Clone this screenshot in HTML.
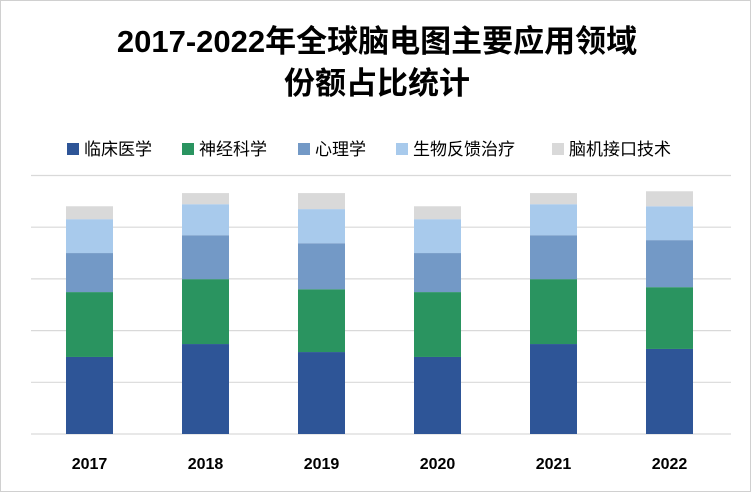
<!DOCTYPE html>
<html><head><meta charset="utf-8"><style>
body{margin:0;background:#fff}
#wrap{position:relative;width:749px;height:490px;border:1px solid #d0d0d0;background:#fff;font-family:"Liberation Sans","Noto Sans CJK SC",sans-serif}
</style></head><body>
<div id="wrap">
<svg id="chart" width="749" height="490">
<text x="376" y="51" text-anchor="middle" font-size="31" font-weight="bold" fill="#000" font-family="Liberation Sans, Noto Sans CJK SC, sans-serif">2017-2022年全球脑电图主要应用领域</text>
<text x="376" y="93" text-anchor="middle" font-size="31" font-weight="bold" fill="#000" font-family="Liberation Sans, Noto Sans CJK SC, sans-serif">份额占比统计</text>
<g id="legend"></g>
<g id="grid"></g>
<g id="bars"></g>
<g id="xlabels"></g>
</svg>
</div>
<script>
const categories=["2017","2018","2019","2020","2021","2022"];
const seriesNames=["临床医学","神经科学","心理学","生物反馈治疗","脑机接口技术"];
const clinical=[29.8,34.8,31.7,29.8,34.8,32.9];
const neuro=[25.1,25.1,24.3,25.1,25.1,23.9];
const psych=[15.1,17.0,17.8,15.1,17.0,18.2];
const biofeedback=[13.1,12.0,13.2,13.1,12.0,13.1];
const bci=[5.0,4.3,6.2,5.0,4.3,5.8];
const gridTicks=[0,20,40,60,80,100];

const series=[clinical,neuro,psych,biofeedback,bci];
const colors=["#2e5597","#2a9460","#7399c6","#a8caec","#d9d9d9"];
const NS="http://www.w3.org/2000/svg";
const x0=30.5,x1=726.5,yb=433,yt=174.5,maxV=100;
const band=(x1-x0)/categories.length,bw=47;
const yScale=v=>yb-(v/maxV)*(yb-yt);
const xCenter=i=>x0+band*(i+0.5);
function mk(tag,attrs){const e=document.createElementNS(NS,tag);for(const k in attrs)e.setAttribute(k,attrs[k]);return e;}
const grid=document.getElementById('grid');
gridTicks.forEach(t=>{
  const l=mk('line',{x1:30,x2:730,y1:yScale(t),y2:yScale(t),stroke:'#d9d9d9','stroke-width':1.2});
  
  
  grid.appendChild(l);
});
const bars=document.getElementById('bars');
categories.forEach((c,i)=>{
  let acc=0;
  series.forEach((s,j)=>{
    const y0=yScale(acc),y1=yScale(acc+s[i]);acc+=s[i];
    const r=mk('rect',{x:xCenter(i)-bw/2,y:y1,width:bw,height:y0-y1,fill:colors[j]});
    
    
    bars.appendChild(r);
  });
});
const xl=document.getElementById('xlabels');
categories.forEach((c,i)=>{
  const t=mk('text',{x:xCenter(i),y:468,'text-anchor':'middle','font-size':16,'font-weight':'bold',fill:'#000'});
  t.textContent=c;
  
  
  xl.appendChild(t);
});
const lg=document.getElementById('legend');
const lx=[66,181,297,395,551];
seriesNames.forEach((n,j)=>{
  const r=mk('rect',{x:lx[j],y:142,width:12,height:12,fill:colors[j]});
  
  
  lg.appendChild(r);
  const t=mk('text',{x:lx[j]+17,y:154,'font-size':17,fill:'#000'});
  t.textContent=n;
  
  
  lg.appendChild(t);
});
</script>
</body></html>
